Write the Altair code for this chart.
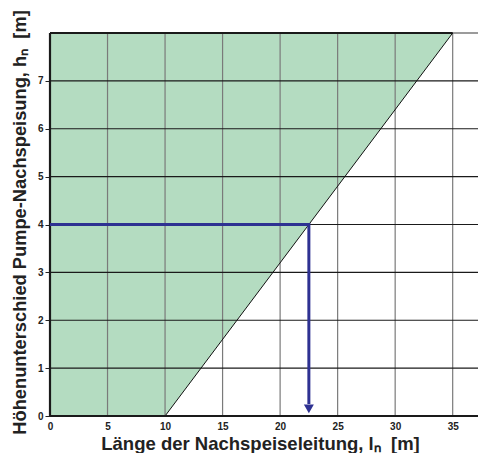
import altair as alt
import pandas as pd

# Data
x_ticks = [0, 5, 10, 15, 20, 25, 30, 35]
y_ticks = [0, 1, 2, 3, 4, 5, 6, 7]
x_max = 37.2
y_max = 8

# Boundary of admissible (green) region
bound_x = [0, 10, 35]
bound_y = [0, 0, 8]

# Example reading: h = 4 m -> l = 22.5 m
example_h = 4
example_l = 22.5

green = "#b4dcc1"
blue = "#2e3192"

area_df = pd.DataFrame({"x": bound_x, "y": bound_y, "y2": [y_max] * 3})
diag_df = pd.DataFrame({"x": bound_x[1:], "y": bound_y[1:]})
vgrid_df = pd.DataFrame({"x": x_ticks[1:]})
hgrid_df = pd.DataFrame({"y": y_ticks[1:]})
top_df = pd.DataFrame({"x": [0], "x2": [bound_x[-1]], "y": [y_max]})
path_df = pd.DataFrame({"x": [0, example_l, example_l], "y": [example_h, example_h, 0.25], "o": [0, 1, 2]})
arrow_df = pd.DataFrame({"x": [example_l], "y": [0.15]})

xs = alt.Scale(domain=[0, x_max], nice=False, zero=False)
ys = alt.Scale(domain=[0, y_max], nice=False, zero=False)

x_axis = alt.Axis(values=x_ticks, grid=False, domain=False, ticks=False, labelFontWeight="bold",
                  labelFontSize=10, labelPadding=5, title="Länge der Nachspeiseleitung, lₙ\u00a0\u00a0[m]",
                  titleFontSize=18.5, titleFontWeight="bold", titlePadding=3, labelFlush=False,
                  titleColor="#222", labelColor="#222", titleLimit=600, titleX=210)
y_axis = alt.Axis(values=y_ticks, grid=False, domain=False, ticks=True, tickSize=5, tickColor="#222",
                  labelFontWeight="bold", labelFontSize=10, labelPadding=2,
                  title="Höhenunterschied Pumpe-Nachspeisung, hₙ\u00a0\u00a0[m]",
                  titleFontSize=18.3, titleFontWeight="bold", titlePadding=8, labelFlush=False,
                  titleColor="#222", labelColor="#222", titleLimit=600, titleY=189)

area = alt.Chart(area_df).mark_area(color=green, opacity=1).encode(
    x=alt.X("x:Q", scale=xs, axis=x_axis), y=alt.Y("y:Q", scale=ys, axis=y_axis), y2="y2:Q")

vgrid = alt.Chart(vgrid_df).mark_rule(color="#7a7a7a", strokeWidth=1.2).encode(x=alt.X("x:Q", scale=xs))
hgrid = alt.Chart(hgrid_df).mark_rule(color="#1a1a1a", strokeWidth=1.1).encode(y=alt.Y("y:Q", scale=ys))
topg = alt.Chart(pd.DataFrame({"y": [y_max]})).mark_rule(color="#7a7a7a", strokeWidth=1.5).encode(y=alt.Y("y:Q", scale=ys))
topb = alt.Chart(top_df).mark_rule(color="#1a1a1a", strokeWidth=2).encode(
    x=alt.X("x:Q", scale=xs), x2="x2:Q", y=alt.Y("y:Q", scale=ys))
left = alt.Chart(pd.DataFrame({"x": [0]})).mark_rule(color="#1a1a1a", strokeWidth=2.2).encode(x=alt.X("x:Q", scale=xs))
bottom = alt.Chart(pd.DataFrame({"y": [0]})).mark_rule(color="#1a1a1a", strokeWidth=2).encode(y=alt.Y("y:Q", scale=ys))
diag = alt.Chart(diag_df).mark_line(color="#111", strokeWidth=1).encode(
    x=alt.X("x:Q", scale=xs), y=alt.Y("y:Q", scale=ys))
path = alt.Chart(path_df).mark_line(color=blue, strokeWidth=3).encode(
    x=alt.X("x:Q", scale=xs), y=alt.Y("y:Q", scale=ys), order="o:Q")
arrow = alt.Chart(arrow_df).mark_point(shape="triangle-down", filled=True, color=blue, size=100, opacity=1).encode(
    x=alt.X("x:Q", scale=xs), y=alt.Y("y:Q", scale=ys))

chart = alt.layer(area, vgrid, hgrid, topg, topb, diag, left, bottom, path, arrow).properties(
    width=428, height=383,
    autosize=alt.AutoSizeParams(type="none"),
    padding={"left": 42, "top": 25, "right": 0, "bottom": 37},
).configure_view(stroke=None).configure_axis(labelFont="Liberation Sans", titleFont="Liberation Sans")

chart.save("out.html", embed_options={"renderer": "svg", "actions": False})
